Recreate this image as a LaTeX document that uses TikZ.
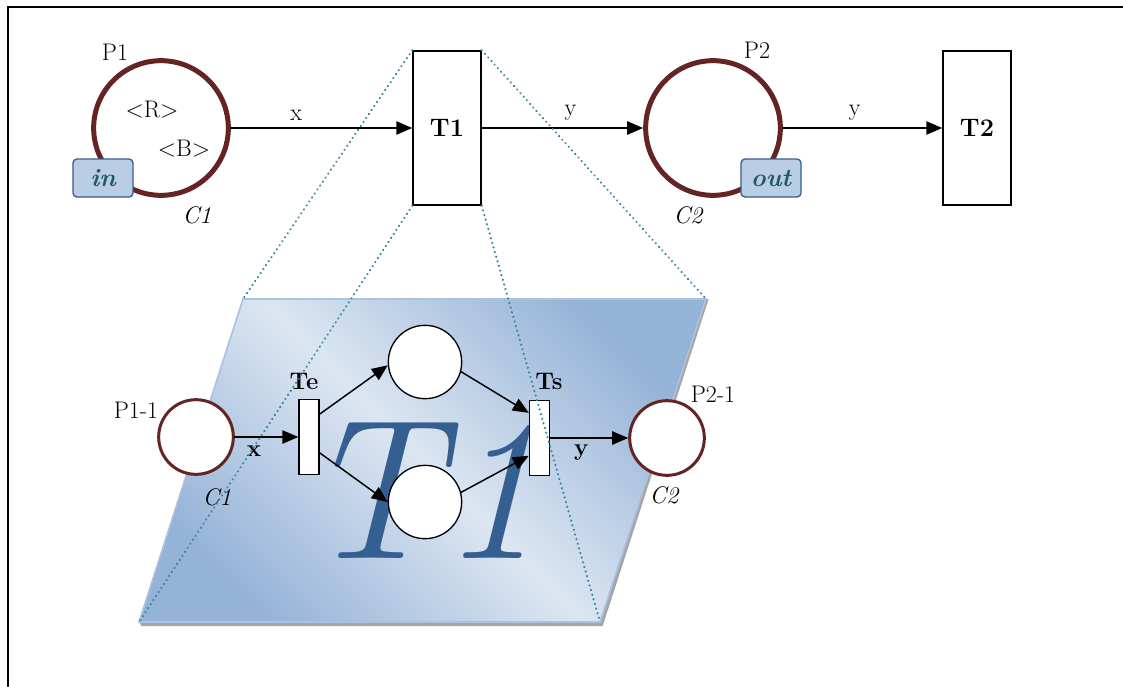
\documentclass[tikz,border=0pt]{standalone}
\usetikzlibrary{arrows.meta,positioning}
\definecolor{placered}{HTML}{652424}
\definecolor{portfill}{HTML}{B9CDE5}
\definecolor{portdraw}{HTML}{385D8A}
\definecolor{porttext}{HTML}{215968}
\definecolor{bigblue}{HTML}{365F91}
\definecolor{dotblue}{HTML}{31859C}
\definecolor{paneldark}{HTML}{95B3D7}
\definecolor{panellight}{HTML}{DCE6F2}
\begin{document}
\begin{tikzpicture}[x=0.75pt,y=-0.75pt,line cap=round,
    every node/.style={font=\fontsize{18}{21}\selectfont},
    place/.style={draw=placered,circle,fill=white,line width=3.75pt,minimum size=101pt,inner sep=0pt},
    subplace/.style={draw=placered,circle,fill=white,line width=2.25pt,minimum size=56pt,inner sep=0pt},
    inner/.style={draw,circle,fill=white,line width=1pt,minimum size=55pt,inner sep=0pt},
    trans/.style={draw,fill=white,line width=1.1pt,minimum width=51pt,minimum height=115.5pt,inner sep=0pt,font=\fontsize{19}{21}\selectfont\bfseries},
    bar/.style={draw,fill=white,line width=1pt,minimum width=15pt,minimum height=56pt,inner sep=0pt},
    port/.style={draw=portdraw,fill=portfill,line width=1pt,rounded corners=3pt,minimum width=45pt,minimum height=28.5pt,inner sep=0pt,text=porttext,font=\fontsize{19}{21}\selectfont\bfseries\itshape},
    arc/.style={line width=1.1pt,-{Triangle[length=12pt,width=10pt]}},
    zoomline/.style={dotblue,line width=1.8pt,dash pattern=on 0.01pt off 3.6pt}]
  \useasboundingbox (0,0) rectangle (1123,686);
  \draw[line width=1.5pt] (8,686) -- (8,7) -- (1123,7);

  % panel
  \coordinate (ptl) at (243,299);
  \coordinate (ptr) at (706,299);
  \coordinate (pbr) at (600,622);
  \coordinate (pbl) at (139,622);
  \fill[gray!70] (ptr) -- ([xshift=2pt]ptr) -- ([xshift=2pt,yshift=-3pt]pbr) -- ([xshift=2pt,yshift=-3pt]pbl) -- (pbl) -- cycle;
  \shadedraw[draw=paneldark!80,line width=1.2pt,top color=paneldark,bottom color=paneldark,middle color=panellight,shading angle=-45]
    (ptl) -- (ptr) -- (pbr) -- (pbl) -- cycle;
  \node[anchor=base,text=bigblue,font=\fontsize{150}{150}\selectfont\itshape] (bigt) at (420,558) {T1};

  % top net
  \node[place] (p1) at (161,128) {};
  \node (r) at (152,110) {<R>};
  \node (b) at (184,149) {<B>};
  \node (p1lab) at (115,52) {P1};
  \node[font=\fontsize{18}{21}\selectfont\itshape] (c1) at (197,215) {C1};
  \node[port] (pin) at (103,178) {in};
  \node[trans] (t1) at (447,128) {T1};
  \node[place] (p2) at (713,128) {};
  \node (p2lab) at (757,50) {P2};
  \node[font=\fontsize{18}{21}\selectfont\itshape] (c2) at (688,215) {C2};
  \node[port] (pout) at (771,178) {out};
  \node[trans] (t2) at (977,128) {T2};
  \draw[arc] (p1) -- (t1) node[pos=0.36,above=2pt] (xlab) {x};
  \draw[arc] (t1) -- (p2) node[pos=0.55,above=2pt] (ylab) {y};
  \draw[arc] (p2) -- (t2) node[pos=0.45,above=2pt] (ylab2) {y};

  % inner net
  \node[subplace] (p11) at (196,437) {};
  \node (p11lab) at (136,410) {P1-1};
  \node[font=\fontsize{18}{21}\selectfont\itshape] (c11) at (217,497) {C1};
  \node[bar] (te) at (309,437) {};
  \node[font=\fontsize{18}{21}\selectfont\bfseries] (telab) at (304,381) {Te};
  \node[inner] (pa) at (425,362) {};
  \node[inner] (pb) at (425,502) {};
  \node[bar] (ts) at (539.5,438) {};
  \node[font=\fontsize{18}{21}\selectfont\bfseries] (tslab) at (549,381) {Ts};
  \node[subplace] (p21) at (667,438) {};
  \node (p21lab) at (713,394) {P2-1};
  \node[font=\fontsize{18}{21}\selectfont\itshape] (c21) at (664,495) {C2};
  \draw[arc] (p11) -- (te) node[pos=0.3,below=3pt,font=\fontsize{18}{21}\selectfont\bfseries] (xin) {x};
  \draw[arc] (te.65) -- (pa.185);
  \draw[arc] (te.-56) -- (pb.west);
  \draw[arc] (pa.-15) -- (ts.113);
  \draw[arc] (pb.15) -- (ts.239);
  \draw[arc] (ts.east) -- (p21) node[pos=0.4,below=1.5pt,font=\fontsize{18}{21}\selectfont\bfseries] (yin) {y};

  % zoom lines
  \draw[zoomline] (t1.north west) -- (ptl);
  \draw[zoomline] (t1.north east) -- (ptr);
  \draw[zoomline] (t1.south west) -- (pbl);
  \draw[zoomline] (t1.south east) -- (pbr);
\end{tikzpicture}
\end{document}
